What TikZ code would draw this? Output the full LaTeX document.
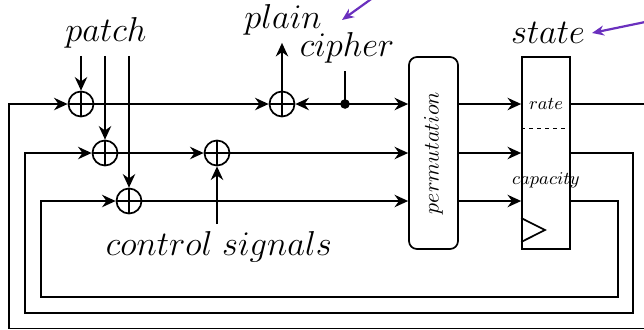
\documentclass[tikz,border=0pt]{standalone}
\usepackage{amsmath,amssymb}
\usepackage{xcolor}
\usepackage{tikz}
\usetikzlibrary{arrows.meta, positioning}

\definecolor{notecol}{RGB}{106,48,190}

\begin{document}
\begin{tikzpicture}[x=0.5pt, y=-0.5pt, line width=0.85pt,
    xorgate/.style={circle, draw, minimum size=12.5pt, inner sep=0pt,
      path picture={\draw (path picture bounding box.north) -- (path picture bounding box.south)
        (path picture bounding box.west) -- (path picture bounding box.east);}},
    bigtxt/.style={font=\fontsize{16.4}{20}\selectfont},
    smalltxt/.style={font=\fontsize{9}{11}\selectfont},
    permbox/.style={rectangle, draw, rounded corners=4pt, minimum width=24.5pt, minimum height=96pt},
    statebox/.style={rectangle, draw, minimum width=24pt, minimum height=96pt},
    arr/.style={-{Stealth[length=6.8pt, width=6.2pt]}},
    note/.style={-{Stealth[length=6pt, width=5pt]}, notecol, line width=1.1pt}]
    \useasboundingbox (0,0) rectangle (644,329);
    % Labels
    \node[bigtxt] (patch) at (106,33) {$patch$};
    \node[bigtxt] (plain) at (283,20) {$plain$};
    \node[bigtxt] (cipher) at (347,48) {$cipher$};
    \node[bigtxt] (ctrl) at (219,247) {$control\ signals$};
    \node[bigtxt] (statelbl) at (548,33) {$state$};
    % XOR gates
    \node[xorgate] (xa) at (81,104) {};
    \node[xorgate] (xb) at (105,153) {};
    \node[xorgate] (xc) at (129,201) {};
    \node[xorgate] (xd) at (217,153) {};
    \node[xorgate] (xp) at (282,104) {};
    % Permutation and state
    \node[permbox] (perm) at (433.5,153) {};
    \node[rotate=90, font=\fontsize{10.6}{12}\selectfont] at (perm) {$permutation$};
    \node[statebox] (state) at (546,153) {};
    \node[smalltxt] (rate) at (546,104) {$rate$};
    \node[smalltxt] (cap) at (546,180) {$capacity$};
    \draw[line width=0.5pt, dash pattern=on 2pt off 2pt] (state.west |- 0,128) -- (state.east |- 0,128);
    \draw (state.west |- 0,218) -- (545,230) -- (state.west |- 0,242);
    % Inputs
    \foreach \g in {xa,xb,xc} {\draw[arr] (\g |- patch.south) -- (\g);}
    \draw[arr] (ctrl.north -| xd) -- (xd);
    \draw[arr] (xp) -- (xp |- plain.south);
    \coordinate (tap) at (345,104);
    \fill (tap) circle (2.4pt);
    \draw (tap) -- (tap |- cipher.south);
    % Rows
    \draw[arr] (xa) -- (xp);
    \draw[arr] (tap) -- (xp);
    \draw[arr] (tap) -- (perm.west |- tap);
    \draw[arr] (xb) -- (xd);
    \draw[arr] (xd) -- (perm.west |- xd);
    \draw[arr] (xc) -- (perm.west |- xc);
    \foreach \g in {xa,xb,xc} {\draw[arr] (perm.east |- \g) -- (state.west |- \g);}
    % Feedback loops
    \coordinate (ra) at (652,328.5); \coordinate (la) at (9,104);
    \coordinate (rb) at (633,313); \coordinate (lb) at (25,153);
    \coordinate (rc) at (618,297); \coordinate (lc) at (41,201);
    \draw[arr] (state.east |- xa) -| (ra) -| (la) -- (xa);
    \draw[arr] (state.east |- xb) -| (rb) -| (lb) -- (xb);
    \draw[arr] (state.east |- xc) -| (rc) -| (lc) -- (xc);
    % Notes
    \coordinate (n1) at (374,-3); \coordinate (n2) at (650,21);
    \draw[note] (n1) -- (342,20);
    \draw[note] (n2) -- (592,33);
  \end{tikzpicture}
\end{document}
